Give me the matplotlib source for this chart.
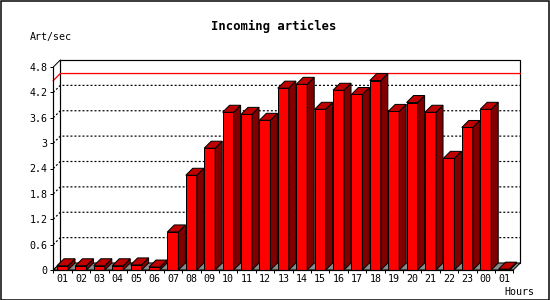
import matplotlib.pyplot as plt
from matplotlib.patches import Polygon, Rectangle

hours = ["01", "02", "03", "04", "05", "06", "07", "08", "09", "10", "11", "12", "13",
         "14", "15", "16", "17", "18", "19", "20", "21", "22", "23", "00", "01"]
rate = [0.10, 0.10, 0.10, 0.10, 0.12, 0.07, 0.90, 2.24, 2.88, 3.73, 3.68, 3.54, 4.30,
        4.39, 3.80, 4.25, 4.15, 4.48, 3.75, 3.96, 3.73, 2.64, 3.37, 3.80, 0.02]
yticks = [0, 0.6, 1.2, 1.8, 2.4, 3, 3.6, 4.2, 4.8]

PX = 0.72  # one pixel in points
mono = "DejaVu Sans Mono"

fig = plt.figure(figsize=(5.5, 3), dpi=100)
ax = fig.add_axes([53.3 / 550, 30 / 300, 460 / 550, 203 / 300])
n = len(hours)
ymax = 4.8
ax.set_xlim(0, n)
ax.set_ylim(0, ymax)

# 3d depth: 7 px in both directions, in data units
dx = 7 / (460 / n)
dy = 7 / (203 / ymax)

# back wall
ax.add_patch(Polygon([(dx, dy), (n + dx, dy), (n + dx, ymax + dy), (dx, ymax + dy)],
                     closed=True, facecolor="white", edgecolor="black", lw=1.2 * PX,
                     clip_on=False, zorder=1))
# gridlines on back wall and side wall
for v in yticks[1:-1]:
    ax.plot([0, dx, n + dx], [v, v + dy, v + dy], color="black", lw=1.2 * PX,
            ls=(0, (1.67, 1.67)), clip_on=False, zorder=2)
# max line
m = max(rate)
ax.plot([0, dx, n + dx], [m, m + dy, m + dy], color="#ff0000", lw=1.3 * PX,
        clip_on=False, zorder=2)
# side wall edges
ax.plot([0, dx], [ymax, ymax + dy], color="black", lw=PX, clip_on=False, zorder=2)
ax.plot([0, dx], [0, dy], color="black", lw=PX, clip_on=False, zorder=2)
# floor
ax.add_patch(Polygon([(0, 0), (n, 0), (n + dx, dy), (dx, dy)], closed=True,
                     facecolor="#8a8a8a", edgecolor="black", lw=PX,
                     clip_on=False, zorder=2))

# bars
off, w = 0.2, 0.6
for i, v in enumerate(rate):
    x0 = i + off
    x1 = x0 + w
    ax.bar(x0, v, width=w, align="edge", color="#ff0000", edgecolor="black",
           lw=PX, clip_on=False, zorder=3)
    ax.add_patch(Polygon([(x1, 0), (x1 + dx, dy), (x1 + dx, v + dy), (x1, v)],
                         closed=True, facecolor="#800000", edgecolor="black",
                         lw=PX, clip_on=False, zorder=3))
    ax.add_patch(Polygon([(x0, v), (x1, v), (x1 + dx, v + dy), (x0 + dx, v + dy)],
                         closed=True, facecolor="#c00000", edgecolor="black",
                         lw=PX, clip_on=False, zorder=3))

for s in ["top", "right"]:
    ax.spines[s].set_visible(False)
for s in ["left", "bottom"]:
    ax.spines[s].set_linewidth(1.2 * PX)
    ax.spines[s].set_zorder(4)

ax.set_yticks(yticks)
ax.set_yticklabels(["%g" % t for t in yticks], family=mono, fontsize=7.2)
ax.set_xticks(range(n + 1))
ax.set_xticklabels([])
ax.set_xticks([i + 0.5 for i in range(n)], minor=True)
ax.set_xticklabels(hours, minor=True, family=mono, fontsize=7.2)
ax.tick_params(axis="y", length=3 * PX, width=PX, pad=3 * PX)
ax.tick_params(axis="x", which="major", length=3 * PX, width=PX)
ax.tick_params(axis="x", which="minor", length=0, pad=4 * PX)

fig.text(274 / 550, 1 - 26.7 / 300, "Incoming articles", ha="center", va="center",
         family=mono, fontweight="bold", fontsize=8.8)
fig.text(30 / 550, 1 - 36.7 / 300, "Art/sec", ha="left", va="center",
         family=mono, fontsize=7.2)
fig.text(534 / 550, 1 - 292 / 300, "Hours", ha="right", va="center",
         family=mono, fontsize=7.2)

fig.patches.append(Rectangle((0.5 / 550, 0.5 / 300), 548.5 / 550, 298.5 / 300,
                             transform=fig.transFigure, fill=False,
                             edgecolor="black", lw=1.5 * PX))

fig.savefig("out.png", dpi=100)
